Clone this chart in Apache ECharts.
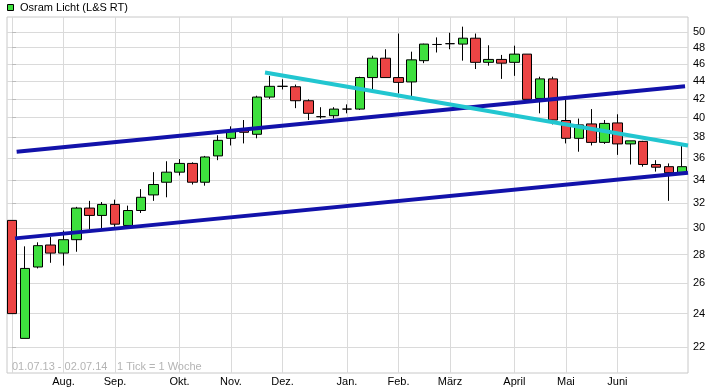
<!DOCTYPE html>
<html>
<head>
<meta charset="utf-8">
<script src="https://cdn.jsdelivr.net/npm/echarts@6/dist/echarts.min.js"></script>
<style>
html,body{margin:0;padding:0;background:#fff;}
#chart{width:712px;height:391px;}
</style>
</head>
<body>
<div id="chart"></div>
<script>
// Weekly candles 01.07.13 - 02.07.14 (index 0..52)
const opens  = [30.6,22.5,27.1,28.7,28.1,29.1,31.6,31.0,31.9,30.2,31.4,32.7,33.8,34.7,35.5,33.8,36.2,37.9,38.8,38.3,42.2,43.4,43.35,41.8,40.1,40.2,40.9,40.9,44.4,46.7,44.4,43.9,46.4,48.4,48.5,48.45,49.2,46.2,46.55,46.2,47.2,42.05,44.25,39.7,37.9,39.35,37.5,39.45,37.35,37.6,35.4,35.2,34.65];
const closes = [24.0,27.0,28.65,28.1,29.1,31.6,31.0,31.9,30.3,31.4,32.5,33.6,34.7,35.5,33.8,36.1,37.7,38.6,38.5,42.2,43.4,43.4,41.8,40.45,40.1,40.9,40.9,44.4,46.7,44.4,43.85,46.5,48.45,48.4,48.5,49.2,46.2,46.55,46.1,47.2,41.95,44.25,39.75,37.9,39.25,37.5,39.4,37.35,37.65,35.4,35.15,34.65,35.2];
const lows   = [24.0,22.5,27.0,27.4,27.2,28.2,29.9,30.0,30.1,30.2,31.2,32.2,32.5,34.4,33.6,33.5,35.8,37.2,37.4,37.9,42.0,43.05,41.0,39.75,39.9,39.9,40.45,40.8,43.05,44.4,42.6,42.3,46.1,47.4,47.8,46.4,45.4,45.8,44.25,44.6,41.95,40.45,39.3,37.4,36.6,37.2,37.35,36.3,35.4,35.2,34.75,32.2,34.65];
const highs  = [30.6,28.6,28.9,29.3,29.8,31.7,32.2,32.1,32.3,31.8,33.2,34.7,35.7,35.9,35.6,36.2,38.2,39.1,39.75,42.35,44.6,44.2,43.6,41.95,41.1,41.1,41.4,44.5,47.0,47.8,49.8,47.5,48.5,49.3,49.9,50.7,49.8,48.3,47.1,48.25,47.2,44.5,44.5,41.9,39.9,40.9,39.75,40.35,37.65,37.65,35.8,35.5,37.15];

// Month boundaries (week index) and labels
const monthIdx    = [0, 4, 8, 13, 17, 21, 26, 30, 34, 39, 43, 47];
const monthLabels = ['', 'Aug.', 'Sep.', 'Okt.', 'Nov.', 'Dez.', 'Jan.', 'Feb.', 'März', 'April', 'Mai', 'Juni'];

// Y tick labels (log price scale)
const yTicks = [22, 24, 26, 28, 30, 32, 34, 36, 38, 40, 42, 44, 46, 48, 50];

// Trend lines: [weekIndex, price]
const lowerChannel = [[0.23, 29.2], [52.48, 34.65]];
const upperChannel = [[0.36, 36.6], [52.25, 43.4]];
const resistance   = [[19.64, 45.0], [52.48, 37.2]];

const L = Math.log;
const candleData = opens.map((o, i) => [i, L(o), L(closes[i]), L(lows[i]), L(highs[i])]);
const toLn = arr => arr.map(p => [p[0], L(p[1])]);

const chart = echarts.init(document.getElementById('chart'), null, {renderer: 'canvas'});
const FONT = 'Liberation Sans, Arial, sans-serif';

chart.setOption({
  animation: false,
  backgroundColor: '#ffffff',
  grid: {left: 7, right: 24, top: 17, bottom: 18, show: true, borderColor: '#c8c8c8', borderWidth: 1, containLabel: false},
  xAxis: {
    type: 'value',
    min: -0.39,
    max: 52.48,
    axisLine: {show: false},
    axisTick: {show: false, customValues: monthIdx},
    splitLine: {show: true, lineStyle: {color: '#dadada', width: 1}},
    axisLabel: {
      customValues: monthIdx.slice(1),
      formatter: v => monthLabels[monthIdx.indexOf(Math.round(v))] || '',
      color: '#000', fontSize: 11, fontFamily: FONT, margin: 3
    }
  },
  yAxis: {
    type: 'value',
    position: 'right',
    min: L(50) - (373 - 32) / 383.7,
    max: L(50) + (32 - 17) / 383.7,
    axisLine: {show: false},
    axisTick: {show: true, length: 4, customValues: yTicks.map(v => L(v)), lineStyle: {color: '#bbb'}},
    splitLine: {show: true, lineStyle: {color: '#dadada', width: 1}},
    axisLabel: {
      customValues: yTicks.map(v => L(v)),
      formatter: v => String(Math.round(Math.exp(v))),
      color: '#000', fontSize: 11, fontFamily: FONT, margin: 5
    }
  },
  series: [
    {
      name: 'Osram Licht (L&S RT)',
      type: 'candlestick',
      barWidth: 10,
      encode: {x: 0, y: [1, 2, 3, 4]},
      data: candleData,
      itemStyle: {
        color: '#3ee03e', color0: '#ec4444',
        borderColor: '#000', borderColor0: '#000', borderColorDoji: '#000',
        borderWidth: 1
      },
      z: 2
    },
    {type: 'line', data: toLn(lowerChannel), symbol: 'none', lineStyle: {color: '#1212aa', width: 4}, z: 5, silent: true},
    {type: 'line', data: toLn(upperChannel), symbol: 'none', lineStyle: {color: '#1212aa', width: 4}, z: 5, silent: true},
    {type: 'line', data: toLn(resistance), symbol: 'none', lineStyle: {color: '#22c6d0', width: 4}, z: 5, silent: true}
  ],
  graphic: [
    {type: 'rect', left: 7, top: 4, shape: {width: 6, height: 6}, style: {fill: '#3ee03e', stroke: '#000', lineWidth: 1}},
    {type: 'text', left: 20, top: 2, style: {text: 'Osram Licht (L&S RT)', fill: '#000', font: '11px ' + FONT}},
    {type: 'text', left: 12, top: 361, style: {text: '01.07.13 - 02.07.14', fill: '#b4b4b4', font: '11px ' + FONT}, z: 10},
    {type: 'text', left: 117, top: 361, style: {text: '1 Tick = 1 Woche', fill: '#b4b4b4', font: '11px ' + FONT}, z: 10}
  ]
});
</script>
</body>
</html>
